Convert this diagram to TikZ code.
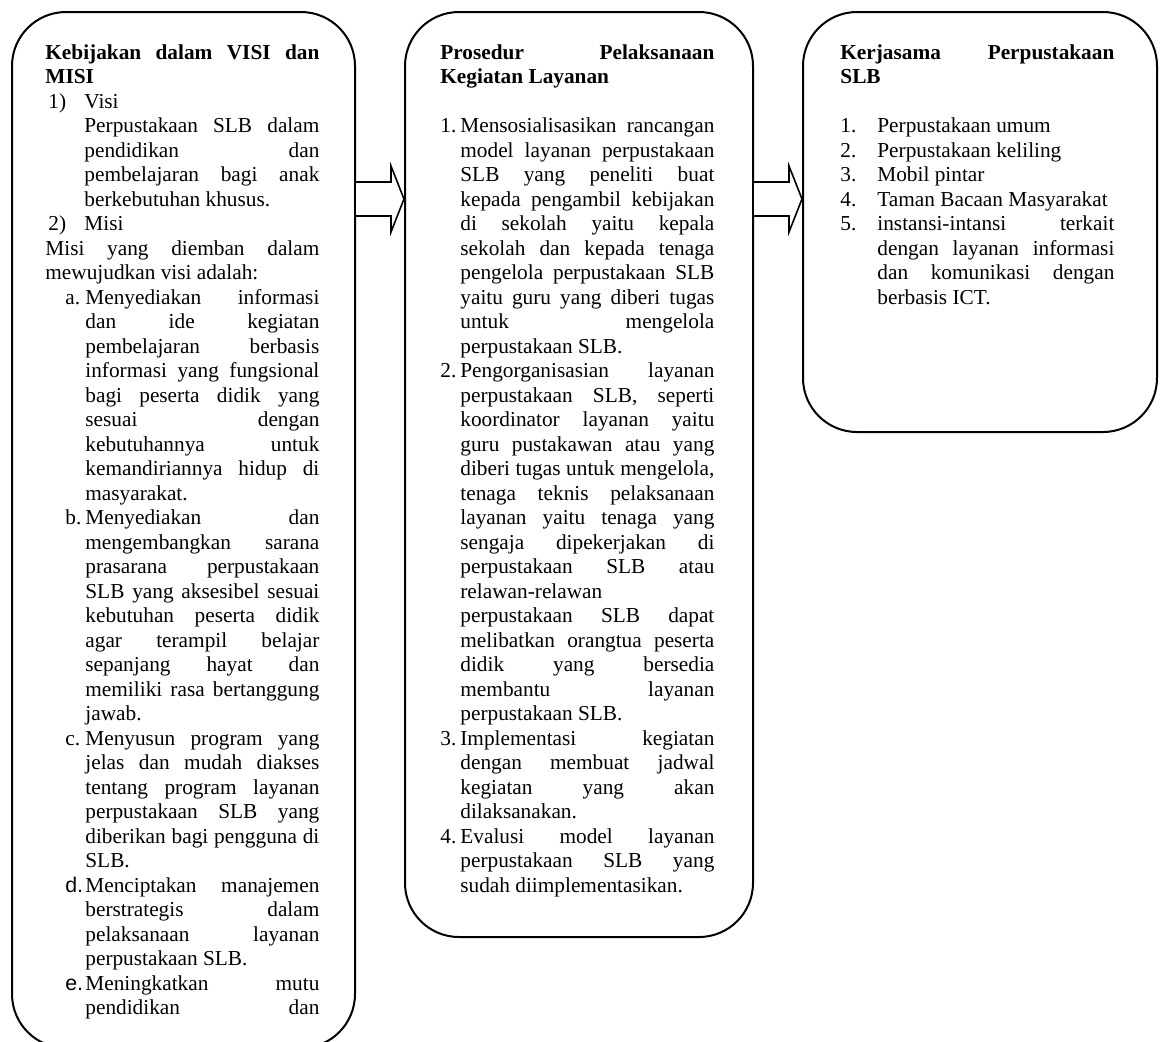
\documentclass[tikz,border=0pt]{standalone}
\usepackage{fontspec}
\setmainfont{Liberation Serif}
\newfontfamily\lsans{Liberation Sans}
\usetikzlibrary{calc,fit}
\newcommand{\JLine}[2]{\hspace*{#1}\makebox[\dimexpr\linewidth-#1\relax][s]{#2}\par}
\newcommand{\PLine}[2]{\hspace*{#1}#2\par}
\newcommand{\LJLine}[4]{\makebox[#3][l]{\hspace*{#1}#2}\makebox[\dimexpr\linewidth-#3\relax][s]{#4}\par}
\newcommand{\LPLine}[4]{\makebox[#3][l]{\hspace*{#1}#2}#4\par}
\newcommand{\BodyFont}{\fontsize{10.65pt}{12.25pt}\selectfont}
\tikzset{
  rbox/.style={draw, line width=1pt, rounded corners=27pt, inner sep=0pt},
  txt/.style={inner sep=0pt, anchor=base west, align=left},
  barrow/.style={draw, line width=0.8pt, fill=white, line join=miter},
}
\begin{document}
\begin{tikzpicture}[x=0.5pt,y=-0.5pt]
\useasboundingbox (0,0) rectangle (1163,1041);
\clip (0,0) rectangle (1163,1041);
\fill[white] (0,0) rectangle (1163,1041);

% boxes
\node[rbox, fit={(12,12) (355,1048)}] (b1) {};
\node[rbox, fit={(405,12) (753,937)}] (b2) {};
\node[rbox, fit={(803,12) (1157,432)}] (b3) {};

% block arrows
\coordinate (tipA) at ($(b2.north west)+(0,188)$);
\coordinate (tipB) at ($(b3.north west)+(0,188)$);
\draw[barrow] ($(b1.north east)+(0,171)$) -- ($(tipA)+(-13,-17)$) -- ($(tipA)+(-13,-33)$) -- (tipA)
  -- ($(tipA)+(-13,33)$) -- ($(tipA)+(-13,17)$) -- ($(b1.north east)+(0,205)$);
\draw[barrow] ($(b2.north east)+(0,171)$) -- ($(tipB)+(-13,-17)$) -- ($(tipB)+(-13,-33)$) -- (tipB)
  -- ($(tipB)+(-13,33)$) -- ($(tipB)+(-13,17)$) -- ($(b2.north east)+(0,205)$);

% box 1 text
\node[txt] (k1) at (45,59) {\parbox[t]{137pt}{\BodyFont
\JLine{0pt}{\textbf{Kebijakan dalam VISI dan}}
\PLine{0pt}{\textbf{MISI}}
\LPLine{1.5pt}{1)}{19.5pt}{Visi}
\JLine{19.5pt}{Perpustakaan SLB dalam}
\JLine{19.5pt}{pendidikan dan}
\JLine{19.5pt}{pembelajaran bagi anak}
\PLine{19.5pt}{berkebutuhan khusus.}
\LPLine{1.5pt}{2)}{19.5pt}{Misi}
\JLine{0pt}{Misi yang diemban dalam}
\PLine{0pt}{mewujudkan visi adalah:}
\LJLine{10pt}{a.}{20pt}{Menyediakan informasi}
\JLine{20pt}{dan ide kegiatan}
\JLine{20pt}{pembelajaran berbasis}
\JLine{20pt}{informasi yang fungsional}
\JLine{20pt}{bagi peserta didik yang}
\JLine{20pt}{sesuai dengan}
\JLine{20pt}{kebutuhannya untuk}
\JLine{20pt}{kemandiriannya hidup di}
\PLine{20pt}{masyarakat.}
\LJLine{10pt}{b.}{20pt}{Menyediakan dan}
\JLine{20pt}{mengembangkan sarana}
\JLine{20pt}{prasarana perpustakaan}
\JLine{20pt}{SLB yang aksesibel sesuai}
\JLine{20pt}{kebutuhan peserta didik}
\JLine{20pt}{agar terampil belajar}
\JLine{20pt}{sepanjang hayat dan}
\JLine{20pt}{memiliki rasa bertanggung}
\PLine{20pt}{jawab.}
\LJLine{10pt}{c.}{20pt}{Menyusun program yang}
\JLine{20pt}{jelas dan mudah diakses}
\JLine{20pt}{tentang program layanan}
\JLine{20pt}{perpustakaan SLB yang}
\JLine{20pt}{diberikan bagi pengguna di}
\PLine{20pt}{SLB.}
\LJLine{10pt}{\lsans d.}{20pt}{Menciptakan manajemen}
\JLine{20pt}{berstrategis dalam}
\JLine{20pt}{pelaksanaan layanan}
\PLine{20pt}{perpustakaan SLB.}
\LJLine{10pt}{\lsans e.}{20pt}{Meningkatkan mutu}
\JLine{20pt}{pendidikan dan}
}};

% box 2 text
\node[txt] (k2) at (440,59) {\parbox[t]{137pt}{\BodyFont
\JLine{0pt}{\textbf{Prosedur Pelaksanaan}}
\PLine{0pt}{\textbf{Kegiatan Layanan}}
\vspace{12.25pt}
\LJLine{0pt}{1.}{10pt}{Mensosialisasikan rancangan}
\JLine{10pt}{model layanan perpustakaan}
\JLine{10pt}{SLB yang peneliti buat}
\JLine{10pt}{kepada pengambil kebijakan}
\JLine{10pt}{di sekolah yaitu kepala}
\JLine{10pt}{sekolah dan kepada tenaga}
\JLine{10pt}{pengelola perpustakaan SLB}
\JLine{10pt}{yaitu guru yang diberi tugas}
\JLine{10pt}{untuk mengelola}
\PLine{10pt}{perpustakaan SLB.}
\LJLine{0pt}{2.}{10pt}{Pengorganisasian layanan}
\JLine{10pt}{perpustakaan SLB, seperti}
\JLine{10pt}{koordinator layanan yaitu}
\JLine{10pt}{guru pustakawan atau yang}
\JLine{10pt}{diberi tugas untuk mengelola,}
\JLine{10pt}{tenaga teknis pelaksanaan}
\JLine{10pt}{layanan yaitu tenaga yang}
\JLine{10pt}{sengaja dipekerjakan di}
\JLine{10pt}{perpustakaan SLB atau}
\PLine{10pt}{relawan-relawan}
\JLine{10pt}{perpustakaan SLB dapat}
\JLine{10pt}{melibatkan orangtua peserta}
\JLine{10pt}{didik yang bersedia}
\JLine{10pt}{membantu layanan}
\PLine{10pt}{perpustakaan SLB.}
\LJLine{0pt}{3.}{10pt}{Implementasi kegiatan}
\JLine{10pt}{dengan membuat jadwal}
\JLine{10pt}{kegiatan yang akan}
\PLine{10pt}{dilaksanakan.}
\LJLine{0pt}{4.}{10pt}{Evalusi model layanan}
\JLine{10pt}{perpustakaan SLB yang}
\PLine{10pt}{sudah diimplementasikan.}
}};

% box 3 text
\node[txt] (k3) at (840,59) {\parbox[t]{137pt}{\BodyFont
\JLine{0pt}{\textbf{Kerjasama Perpustakaan}}
\PLine{0pt}{\textbf{SLB}}
\vspace{12.25pt}
\LPLine{0pt}{1.}{18.5pt}{Perpustakaan umum}
\LPLine{0pt}{2.}{18.5pt}{Perpustakaan keliling}
\LPLine{0pt}{3.}{18.5pt}{Mobil pintar}
\LPLine{0pt}{4.}{18.5pt}{Taman Bacaan Masyarakat}
\LJLine{0pt}{5.}{18.5pt}{instansi-intansi terkait}
\JLine{18.5pt}{dengan layanan informasi}
\JLine{18.5pt}{dan komunikasi dengan}
\PLine{18.5pt}{berbasis ICT.}
}};
\end{tikzpicture}
\end{document}
